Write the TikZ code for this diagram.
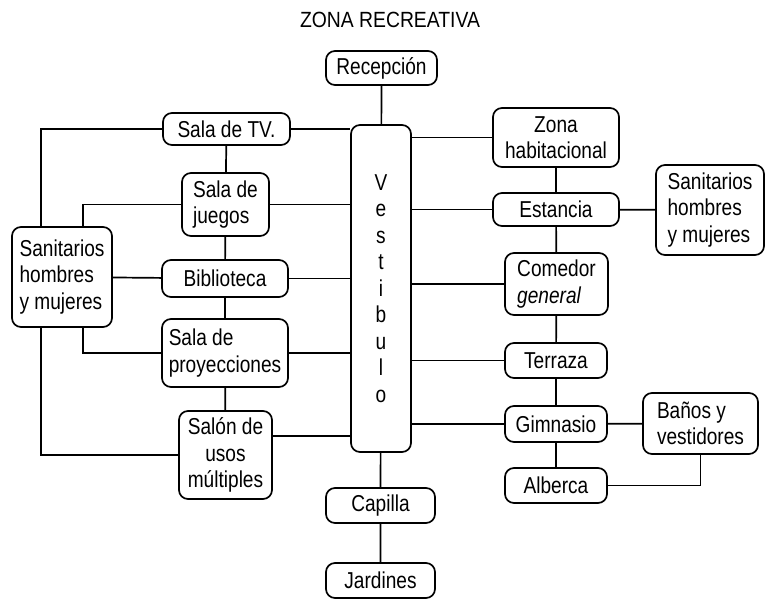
\documentclass[tikz,border=0pt]{standalone}
\usepackage{fontspec}
\setmainfont{Liberation Sans}[FakeStretch=0.83]
\newfontfamily\titulofont{Liberation Sans}[FakeStretch=0.88]
\begin{document}
\begin{tikzpicture}[
        x=1pt, y=-1pt,
        every node/.style={font=\fontsize{23}{26.5}\selectfont},
        caja/.style={draw, rounded corners=9pt, line width=1.7pt, inner sep=2pt, align=center},
        izq/.style={align=left},
        linea/.style={line width=1.7pt},
    ]
    \useasboundingbox (0,0) rectangle (766,600);
    \node[font=\titulofont\fontsize{22}{26}\selectfont] (titulo) at (390,20) {ZONA RECREATIVA};
    % centro
    \node[caja, minimum width=111pt, minimum height=34pt] (recepcion) at (381.5,68) {Recepción};
    \node[caja, minimum width=60pt, minimum height=327pt] (vestibulo) at (381,288.5) {V\\e\\s\\t\\i\\b\\u\\l\\o};
    \node[caja, minimum width=109pt, minimum height=35pt] (capilla) at (380.5,505.5) {Capilla};
    \node[caja, minimum width=109pt, minimum height=35pt] (jardines) at (380.5,580.5) {Jardines};
    % lado izquierdo
    \node[caja, minimum width=127pt, minimum height=32pt] (salatv) at (226.5,129) {Sala de TV.};
    \node[caja, izq, minimum width=87pt, minimum height=63pt] (juegos) at (225.5,204.5) {Sala de\\juegos};
    \node[caja, minimum width=126pt, minimum height=37pt] (biblio) at (225,278.5) {Biblioteca};
    \node[caja, izq, minimum width=126pt, minimum height=68pt] (proyec) at (225,353) {Sala de\\proyecciones};
    \node[caja, minimum width=93pt, minimum height=88pt] (usos) at (225.5,455) {Salón de\\usos\\múltiples};
    \node[caja, izq, minimum width=100pt, minimum height=100pt] (sanizq) at (62,277) {Sanitarios\\hombres\\y mujeres};
    % lado derecho
    \node[caja, minimum width=126pt, minimum height=59pt] (zona) at (556,137.5) {Zona\\habitacional};
    \node[caja, minimum width=126pt, minimum height=33pt] (estancia) at (556,209.5) {Estancia};
    \node[caja, izq, minimum width=108pt, minimum height=90pt] (sander) at (710,210) {Sanitarios\\hombres\\y mujeres};
    \node[caja, izq, minimum width=103pt, minimum height=62pt] (comedor) at (556.5,284) {Comedor\\\textit{general}};
    \node[caja, minimum width=102pt, minimum height=35pt] (terraza) at (556,360.5) {Terraza};
    \node[caja, minimum width=102pt, minimum height=36pt] (gimnasio) at (556,424) {Gimnasio};
    \node[caja, izq, minimum width=115pt, minimum height=61pt] (banos) at (700.5,423.5) {Baños y\\vestidores};
    \node[caja, minimum width=102pt, minimum height=35pt] (alberca) at (556,485.5) {Alberca};

    % conexiones
    \draw[linea] (recepcion) -- (vestibulo);
    \draw[linea] (vestibulo) -- (capilla) -- (jardines);
    \draw[linea] (salatv) -- (juegos) -- (biblio) -- (proyec) -- (usos);
    \draw[linea] (zona) -- (estancia) -- (comedor) -- (terraza) -- (gimnasio) -- (alberca);
    \foreach \n in {salatv, juegos, biblio, proyec}
        \draw[linea] (\n.east) -- (\n.east -| vestibulo.west);
    \draw[linea] ([yshift=19pt]usos.east) -- ([yshift=19pt]usos.east -| vestibulo.west);
    \foreach \n in {zona, estancia, comedor, terraza, gimnasio}
        \draw[linea] (\n.west) -- (\n.west -| vestibulo.east);
    \draw[linea] (sanizq) -- (biblio);
    \draw[linea] ([xshift=-21pt]sanizq.north) |- (salatv.west);
    \draw[linea] ([xshift=21pt]sanizq.north) |- (juegos.west);
    \draw[linea] ([xshift=21pt]sanizq.south) |- (proyec.west);
    \draw[linea] ([xshift=-21pt]sanizq.south) |- (usos.west);
    \draw[linea] (estancia) -- (sander);
    \draw[linea] (gimnasio) -- (banos);
    \draw[linea] (alberca.east) -| (banos.south);
\end{tikzpicture}
\end{document}
